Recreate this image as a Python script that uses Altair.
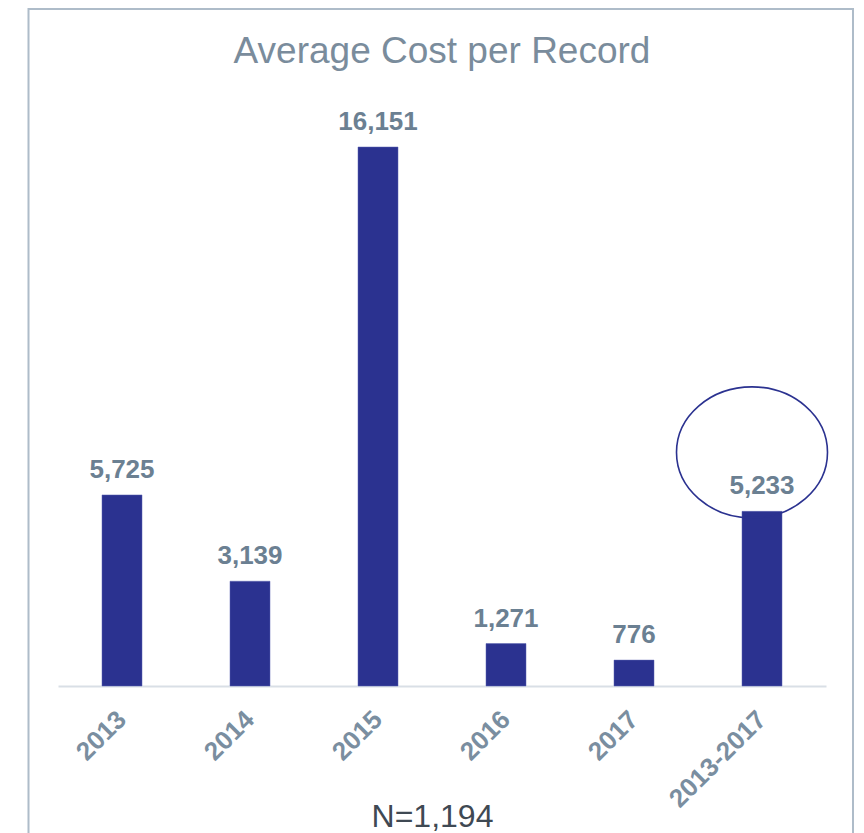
import altair as alt
import pandas as pd

categories = ["2013", "2014", "2015", "2016", "2017", "2013-2017"]
values = [5725, 3139, 16151, 1271, 776, 5233]
title_text = "Average Cost per Record"
note_text = "N=1,194"
highlight = "2013-2017"

df = pd.DataFrame({"year": categories, "cost": values})

FONT = "Liberation Sans"
NAVY = "#2B3290"

x_enc = alt.X(
    "year:N",
    sort=categories,
    scale=alt.Scale(paddingInner=0.6875, paddingOuter=0.34375),
    axis=alt.Axis(
        title=note_text,
        titleX=374,
        titleY=140,
        titleAlign="center",
        titleBaseline="alphabetic",
        titleAngle=0,
        titleFont=FONT,
        titleFontSize=32,
        titleFontWeight="normal",
        titleColor="#3F4953",
        labelAngle=-45,
        labelAlign="right",
        labelBaseline="middle",
        labelFont=FONT,
        labelFontSize=26,
        labelFontWeight="bold",
        labelColor="#7A8EA0",
        labelPadding=29,
        ticks=False,
        domainColor="#D9DFE6",
        domainWidth=2,
        grid=False,
    ),
)
y_enc = alt.Y(
    "cost:Q",
    scale=alt.Scale(domain=[0, 17979], nice=False),
    axis=None,
)

base = alt.Chart(df)

bars = base.mark_bar(color=NAVY, stroke="#5A63B0", strokeWidth=0.5).encode(x=x_enc, y=y_enc)

labels = base.mark_text(
    dy=-17,
    baseline="alphabetic",
    font=FONT,
    fontSize=26,
    fontWeight="bold",
    color="#6B8092",
).encode(x=x_enc, y=y_enc, text=alt.Text("cost:Q", format=","))

ellipse_path = "M-1,0A1,0.868,0,1,0,1,0A1,0.868,0,1,0,-1,0Z"
ring = base.transform_filter(alt.datum.year == highlight).mark_point(
    shape=ellipse_path,
    size=22801,
    filled=False,
    stroke=NAVY,
    strokeWidth=1.6,
    opacity=1,
    xOffset=-10,
    yOffset=-59,
).encode(x=x_enc, y=y_enc)

frame = alt.Chart(pd.DataFrame({"f": [0]})).mark_rect(
    fill=None, stroke="#AEBCC9", strokeWidth=2
).encode(
    x=alt.value(-29.5), x2=alt.value(795), y=alt.value(-77), y2=alt.value(820)
)

chart = alt.layer(frame, bars, labels, ring).properties(
    width=768,
    height=600,
    background="white",
    title=alt.TitleParams(
        text=title_text,
        font=FONT,
        fontSize=37,
        fontWeight="normal",
        color="#7A8C9C",
        anchor="middle",
        frame="group",
        baseline="alphabetic",
        offset=-92,
    ),
    autosize=alt.AutoSizeParams(type="none"),
    padding={"left": 50, "top": 78, "right": 30, "bottom": 147},
).configure_view(stroke=None)

chart.save("out.html", embed_options={"renderer": "svg", "actions": False})
